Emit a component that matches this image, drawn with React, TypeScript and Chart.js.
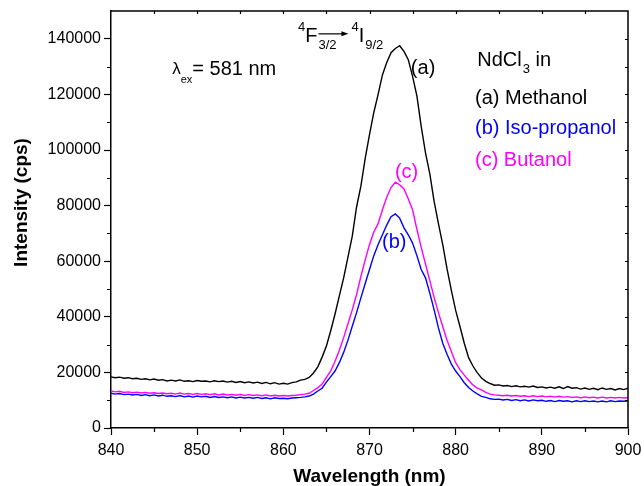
import React, { useEffect, useRef } from "react";
import { Chart, registerables } from "chart.js";

Chart.register(...registerables);

const FONT = "'Liberation Sans', Arial, Helvetica, sans-serif";

// Wavelength (nm), 0.5 nm steps
const WAVELENGTH = [
  840, 840.5, 841, 841.5, 842, 842.5, 843, 843.5, 844, 844.5,
  845, 845.5, 846, 846.5, 847, 847.5, 848, 848.5, 849, 849.5,
  850, 850.5, 851, 851.5, 852, 852.5, 853, 853.5, 854, 854.5,
  855, 855.5, 856, 856.5, 857, 857.5, 858, 858.5, 859, 859.5,
  860, 860.5, 861, 861.5, 862, 862.5, 863, 863.5, 864, 864.5,
  865, 865.5, 866, 866.5, 867, 867.5, 868, 868.5, 869, 869.5,
  870, 870.5, 871, 871.5, 872, 872.5, 873, 873.5, 874, 874.5,
  875, 875.5, 876, 876.5, 877, 877.5, 878, 878.5, 879, 879.5,
  880, 880.5, 881, 881.5, 882, 882.5, 883, 883.5, 884, 884.5,
  885, 885.5, 886, 886.5, 887, 887.5, 888, 888.5, 889, 889.5,
  890, 890.5, 891, 891.5, 892, 892.5, 893, 893.5, 894, 894.5,
  895, 895.5, 896, 896.5, 897, 897.5, 898, 898.5, 899, 899.5,
  900,
];

// (a) Methanol
const METHANOL = [
  18400, 18100, 18300, 17900, 18100, 17700, 17900, 17500, 17700, 17300,
  17600, 17200, 17400, 16900, 17200, 16900, 17300, 16800, 17000, 16700,
  17100, 16800, 16900, 16600, 17000, 16700, 16900, 16500, 16800, 16400,
  16700, 16300, 16600, 16200, 16500, 16000, 16400, 15900, 16300, 15800,
  16100, 15800, 16300, 16600, 17200, 17500, 18200, 19800, 22000, 25500,
  29500, 35000, 41000, 47500, 54000, 61500, 69000, 79500, 87000, 97000,
  105500, 113500, 120000, 127000, 131500, 135000, 136500, 137500, 135500, 132500,
  126500, 119500, 108500, 99000, 91400, 81500, 73500, 66000, 57200, 49500,
  42300, 36500, 30500, 25300, 22300, 19900, 18000, 16800, 16000, 15400,
  15500, 15100, 15300, 14900, 15200, 14800, 15000, 14700, 15100, 14600,
  14800, 14400, 14700, 14300, 14800, 14200, 14900, 14300, 14500, 14000,
  14400, 13900, 14300, 13800, 14400, 13900, 14200, 13700, 14200, 13800,
  14300,
];

// (b) Iso-propanol
const ISOPROPANOL = [
  12500, 12200, 12400, 12000, 12200, 11900, 12100, 11700, 12000, 11600,
  11900, 11500, 11800, 11400, 11600, 11300, 11700, 11200, 11500, 11100,
  11500, 11200, 11400, 11000, 11300, 11000, 11200, 10900, 11200, 10800,
  11100, 10800, 11000, 10700, 11000, 10600, 10900, 10500, 10900, 10600,
  10700, 10500, 10800, 10900, 11000, 11200, 11500, 12200, 13300, 14300,
  16500, 18500, 20500, 23500, 27200, 31600, 36600, 41500, 46800, 52000,
  57000, 62000, 66000, 69500, 73000, 76000, 77000, 75500, 72000, 69500,
  66500, 62000, 57000, 54000, 48500, 42500, 36000, 30500, 26500, 23000,
  20500, 18500, 16300, 14600, 13300, 12300, 11400, 11000, 10500, 10300,
  10400, 10100, 10300, 9900, 10200, 9800, 10100, 9700, 10100, 9800,
  10000, 9600, 9900, 9500, 9900, 9600, 9800, 9400, 9800, 9500,
  9800, 9500, 9700, 9400, 9700, 9400, 9800, 9500, 9700, 9600,
  9700,
];

// (c) Butanol
const BUTANOL = [
  13300, 13000, 13200, 12800, 13000, 12700, 12900, 12600, 12800, 12500,
  12700, 12400, 12600, 12300, 12500, 12200, 12600, 12200, 12400, 12100,
  12400, 12100, 12300, 12000, 12300, 11900, 12200, 11900, 12100, 11800,
  12100, 11700, 12000, 11700, 11900, 11600, 11900, 11500, 11800, 11500,
  11700, 11500, 11700, 11800, 12000, 12200, 12500, 13500, 14500, 15800,
  18200, 20500, 24000, 28000, 32500, 37500, 42500, 48000, 54500, 60500,
  66000, 70500, 73500, 78500, 83000, 86500, 88400, 87500, 86000, 82500,
  78500, 71500, 65000, 59000, 53000, 47000, 41500, 36500, 31600, 27500,
  23500, 21000, 19000, 17200, 15500, 14300, 13700, 12800, 12200, 11900,
  11800, 11600, 11800, 11500, 11700, 11400, 11600, 11300, 11600, 11300,
  11500, 11200, 11400, 11100, 11400, 11100, 11300, 11000, 11200, 10900,
  11200, 10900, 11100, 10800, 11100, 10800, 11000, 10800, 11000, 10800,
  10900,
];

const X_MIN = 840;
const X_MAX = 900;
const X_STEP = 10;
const Y_MIN = 0;
const Y_MAX = 150000;
const Y_STEP = 20000;
const X_TICKS = [840, 850, 860, 870, 880, 890, 900];
const Y_TICKS = [0, 20000, 40000, 60000, 80000, 100000, 120000, 140000];

const SERIES_LABELS = ["(a) Methanol", "(b) Iso-propanol", "(c) Butanol"];
const SERIES_COLORS = ["#000000", "#0000ff", "#ff00ff"];
const CURVE_TAGS = ["(a)", "(b)", "(c)"];
// tag anchors in data units [wavelength, intensity]
const CURVE_TAG_POS = [
  [874.8, 127400],
  [871.45, 64600],
  [872.95, 90100],
];
const LEGEND_TITLE_POS = [882.5, 130300];
const LEGEND_ROW_POS = [
  [882.24, 116700],
  [882.24, 105600],
  [882.24, 94400],
];
const EXCITATION_POS = [847.1, 127000];
const TRANSITION_POS = [861.7, 138900];

const drawPlugin = {
  id: "decorations",
  afterDraw(chart: any) {
    const { ctx, chartArea, scales } = chart;
    const xs = scales.x;
    const ys = scales.y;
    const { left, right, top, bottom } = chartArea;
    ctx.save();
    ctx.strokeStyle = "#000";
    ctx.fillStyle = "#000";

    // frame top & right
    ctx.lineWidth = 1.5;
    ctx.beginPath();
    ctx.moveTo(left, top);
    ctx.lineTo(right, top);
    ctx.lineTo(right, bottom);
    ctx.stroke();

    // minor ticks outward (bottom, left), inward ticks (top, right)
    ctx.lineWidth = 1.2;
    ctx.beginPath();
    for (let v = X_MIN + X_STEP / 2; v < X_MAX; v += X_STEP) {
      const px = Math.round(xs.getPixelForValue(v)) + 0.5;
      ctx.moveTo(px, bottom);
      ctx.lineTo(px, bottom + 4);
    }
    for (let v = Y_MIN + Y_STEP / 2; v < Y_MAX; v += Y_STEP) {
      const py = Math.round(ys.getPixelForValue(v)) + 0.5;
      ctx.moveTo(left, py);
      ctx.lineTo(left - 4, py);
    }
    for (let v = X_MIN + X_STEP / 2; v < X_MAX; v += X_STEP / 2) {
      const px = Math.round(xs.getPixelForValue(v)) + 0.5;
      ctx.moveTo(px, top);
      ctx.lineTo(px, top + 3);
    }
    for (let v = Y_MIN + Y_STEP / 2; v < Y_MAX; v += Y_STEP / 2) {
      const py = Math.round(ys.getPixelForValue(v)) + 0.5;
      ctx.moveTo(right, py);
      ctx.lineTo(right - 3, py);
    }
    ctx.stroke();

    // y-axis title
    ctx.save();
    ctx.translate(22, (top + bottom) / 2 - 17);
    ctx.rotate(-Math.PI / 2);
    ctx.font = `bold 19px ${FONT}`;
    ctx.textAlign = "center";
    ctx.textBaseline = "middle";
    ctx.fillText("Intensity (cps)", 0, 0);
    ctx.restore();

    ctx.textAlign = "left";
    ctx.textBaseline = "alphabetic";

    // excitation annotation
    {
      let x = xs.getPixelForValue(EXCITATION_POS[0]);
      const y = ys.getPixelForValue(EXCITATION_POS[1]);
      ctx.font = `17px ${FONT}`;
      ctx.fillText("λ", x, y - 1);
      x += ctx.measureText("λ").width;
      ctx.font = `11px ${FONT}`;
      ctx.fillText("ex", x, y + 8);
      x += ctx.measureText("ex").width;
      ctx.font = `20px ${FONT}`;
      ctx.fillText("= 581 nm", x, y);
    }

    // transition annotation
    {
      let x = xs.getPixelForValue(TRANSITION_POS[0]);
      const y = ys.getPixelForValue(TRANSITION_POS[1]);
      ctx.font = `13px ${FONT}`;
      ctx.fillText("4", x, y - 11);
      x += ctx.measureText("4").width;
      ctx.font = `20px ${FONT}`;
      ctx.fillText("F", x, y);
      x += ctx.measureText("F").width + 1;
      ctx.font = `13px ${FONT}`;
      ctx.fillText("3/2", x, y + 7);
      const ax0 = x;
      const ax1 = x + 30;
      const ay = y - 8;
      ctx.lineWidth = 1.2;
      ctx.beginPath();
      ctx.moveTo(ax0, ay);
      ctx.lineTo(ax1 - 5, ay);
      ctx.stroke();
      ctx.beginPath();
      ctx.moveTo(ax1, ay);
      ctx.lineTo(ax1 - 7, ay - 2.5);
      ctx.lineTo(ax1 - 7, ay + 2.5);
      ctx.closePath();
      ctx.fill();
      x = ax1 + 3;
      ctx.font = `13px ${FONT}`;
      ctx.fillText("4", x, y - 11);
      x += ctx.measureText("4").width;
      ctx.font = `20px ${FONT}`;
      ctx.fillText("I", x, y);
      x += ctx.measureText("I").width + 1;
      ctx.font = `13px ${FONT}`;
      ctx.fillText("9/2", x, y + 7);
    }

    // curve tags
    ctx.font = `20px ${FONT}`;
    CURVE_TAGS.forEach((t, i) => {
      ctx.fillStyle = SERIES_COLORS[i];
      ctx.fillText(t, xs.getPixelForValue(CURVE_TAG_POS[i][0]), ys.getPixelForValue(CURVE_TAG_POS[i][1]));
    });

    // legend block
    {
      let x = xs.getPixelForValue(LEGEND_TITLE_POS[0]);
      const y = ys.getPixelForValue(LEGEND_TITLE_POS[1]);
      ctx.fillStyle = "#000";
      ctx.font = `20px ${FONT}`;
      ctx.fillText("NdCl", x, y);
      x += ctx.measureText("NdCl").width + 1;
      ctx.font = `13px ${FONT}`;
      ctx.fillText("3", x, y + 7);
      x += ctx.measureText("3").width;
      ctx.font = `20px ${FONT}`;
      ctx.fillText(" in", x, y);
    }
    ctx.font = `20px ${FONT}`;
    SERIES_LABELS.forEach((t, i) => {
      ctx.fillStyle = SERIES_COLORS[i];
      ctx.fillText(t, xs.getPixelForValue(LEGEND_ROW_POS[i][0]), ys.getPixelForValue(LEGEND_ROW_POS[i][1]));
    });

    ctx.restore();
  },
};

export default function App() {
  const canvasRef = useRef<HTMLCanvasElement | null>(null);

  useEffect(() => {
    const canvas = canvasRef.current;
    if (!canvas) return;
    const toPts = (vals: number[]) => WAVELENGTH.map((w, i) => ({ x: w, y: vals[i] }));
    const seriesVals = [METHANOL, ISOPROPANOL, BUTANOL];
    const drawOrder = [2, 0, 1];
    const chart = new Chart(canvas, {
      type: "line",
      data: {
        datasets: seriesVals.map((vals, i) => ({
          label: SERIES_LABELS[i],
          data: toPts(vals),
          borderColor: SERIES_COLORS[i],
          backgroundColor: SERIES_COLORS[i],
          borderWidth: 1.4,
          pointRadius: 0,
          tension: 0,
          fill: false,
          order: drawOrder[i],
        })),
      },
      options: {
        animation: false,
        responsive: false,
        devicePixelRatio: 1,
        layout: { padding: { left: 0, top: 11, right: 16, bottom: 0 } },
        plugins: {
          legend: { display: false },
          tooltip: { enabled: false },
        },
        scales: {
          x: {
            type: "linear",
            min: X_MIN,
            max: X_MAX,
            afterBuildTicks: (s: any) => {
              s.ticks = X_TICKS.map((v) => ({ value: v }));
            },
            ticks: {
              color: "#000",
              font: { family: FONT, size: 16 },
              padding: 6,
              maxRotation: 0,
              autoSkip: false,
              callback: (v: any) => String(v),
            },
            grid: {
              drawOnChartArea: false,
              drawTicks: true,
              tickLength: 7,
              tickColor: "#000",
              tickWidth: 1.2,
            },
            border: { display: true, color: "#000", width: 1.5 },
            title: {
              display: true,
              text: "Wavelength (nm)",
              color: "#000",
              font: { family: FONT, size: 19, weight: "bold", lineHeight: 1 },
              padding: { top: 0, bottom: 0 },
            },
            afterFit: (s: any) => {
              s.height = 58;
              s.paddingLeft = 0;
              s.paddingRight = 0;
            },
          },
          y: {
            type: "linear",
            min: Y_MIN,
            max: Y_MAX,
            afterBuildTicks: (s: any) => {
              s.ticks = Y_TICKS.map((v) => ({ value: v }));
            },
            ticks: {
              color: "#000",
              font: { family: FONT, size: 16 },
              padding: 3,
              autoSkip: false,
              callback: (v: any) => String(v),
            },
            grid: {
              drawOnChartArea: false,
              drawTicks: true,
              tickLength: 7,
              tickColor: "#000",
              tickWidth: 1.2,
            },
            border: { display: true, color: "#000", width: 1.5 },
            afterFit: (s: any) => {
              s.width = 111;
              s.paddingTop = 0;
              s.paddingBottom = 0;
            },
          },
        },
      } as any,
      plugins: [drawPlugin],
    });
    return () => chart.destroy();
  }, []);

  return (
    <div style={{ position: "fixed", left: 0, top: 0, width: 644, height: 486, background: "#fff" }}>
      <canvas ref={canvasRef} width={644} height={486} style={{ width: 644, height: 486, display: "block" }} />
    </div>
  );
}
